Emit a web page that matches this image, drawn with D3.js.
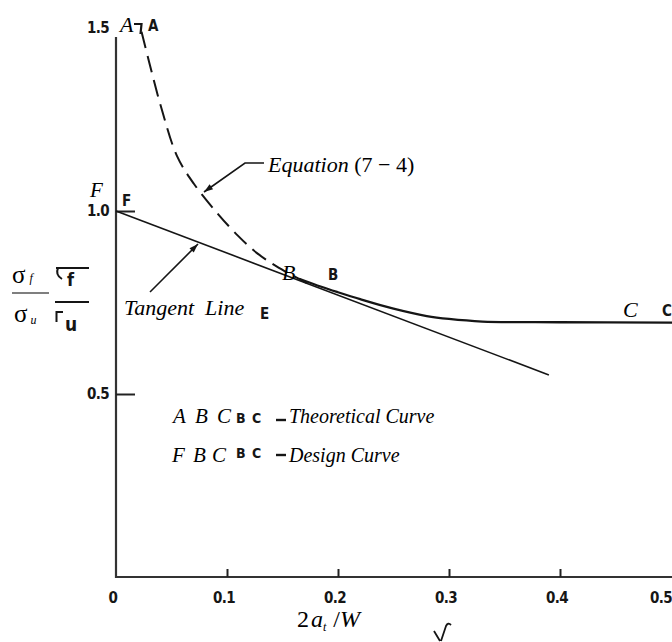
<!DOCTYPE html>
<html>
<head>
<meta charset="utf-8">
<script src="https://cdn.jsdelivr.net/npm/d3@7"></script>
<style>
  html, body { margin: 0; padding: 0; background: #fff; }
  svg { display: block; }
  .serif { font-family: "Liberation Serif", "DejaVu Serif", serif; }
  .scan { font-family: "DejaVu Sans Condensed", "DejaVu Sans", sans-serif; font-weight: bold; fill: #161616; }
</style>
</head>
<body>
<svg id="chart" width="672" height="642"></svg>
<script>
// Axis ticks
const xTickValues = [0, 0.1, 0.2, 0.3, 0.4, 0.5];
const xTickLabels = ["0", "0.1", "0.2", "0.3", "0.4", "0.5"];
const yTickValues = [0.5, 1.0, 1.5];
const yTickLabels = ["0.5", "1.0", "1.5"];

// Equation (7-4): theoretical curve A -> B (dashed)
const eqX = [0.023, 0.030, 0.041, 0.055, 0.070, 0.091, 0.110, 0.127, 0.145, 0.172];
const eqY = [1.490, 1.405, 1.280, 1.150, 1.075, 0.995, 0.932, 0.885, 0.848, 0.803];

// Curve B -> C (solid)
const curveX = [0.165, 0.185, 0.200, 0.220, 0.250, 0.280, 0.300, 0.330, 0.400, 0.500];
const curveY = [0.815, 0.793, 0.778, 0.759, 0.733, 0.713, 0.705, 0.698, 0.696, 0.695];

// Tangent line from F
const tangentX = [0, 0.39];
const tangentY = [1.0, 0.552];

// Point B where the tangent meets the curve
const pointB = [0.1414, 0.844];

const svg = d3.select("#chart");
const ink = "#151515";

const x = d3.scaleLinear().domain([0, 0.5]).range([116, 671]);
const y = d3.scaleLinear().domain([0, 1.5]).range([577, 28]);

// ---- axes ----
const xAxis = svg.append("g")
  .attr("transform", `translate(0,${y(0)})`)
  .call(d3.axisBottom(x).tickValues(xTickValues.slice(1, 5)).tickSize(-8).tickFormat(""));
xAxis.select(".domain").attr("d", `M${x(0)},0H672`).attr("stroke", "#333").attr("stroke-width", 2.2);
xAxis.selectAll(".tick line").attr("stroke", "#222").attr("stroke-width", 2);

svg.append("g").selectAll("text").data(xTickValues).join("text")
  .attr("class", "scan")
  .attr("x", d => Math.min(x(d) - 3, 661))
  .attr("y", 603)
  .attr("text-anchor", "middle")
  .attr("font-size", 15)
  .attr("letter-spacing", -0.6)
  .text((d, i) => xTickLabels[i]);

const yAxis = svg.append("g")
  .attr("transform", `translate(${x(0)},0)`)
  .call(d3.axisLeft(y).tickValues(yTickValues.slice(0, 2)).tickSize(-19).tickFormat(""));
yAxis.select(".domain").attr("d", `M0,37V${y(0) + 1}`).attr("stroke", "#333").attr("stroke-width", 2.2);
yAxis.selectAll(".tick line").attr("stroke", "#222").attr("stroke-width", 2);

svg.append("g").selectAll("text").data(yTickValues).join("text")
  .attr("class", "scan")
  .attr("x", x(0) - 18)
  .attr("y", d => y(d) + 5)
  .attr("text-anchor", "middle")
  .attr("font-size", 15)
  .attr("letter-spacing", -0.6)
  .text((d, i) => yTickLabels[i]);

// ---- curves ----
const line = d3.line().x(d => x(d[0])).y(d => y(d[1]));

svg.append("path")
  .datum(eqX.map((v, i) => [v, eqY[i]]))
  .attr("d", line.curve(d3.curveCatmullRom))
  .attr("fill", "none").attr("stroke", ink).attr("stroke-width", 2)
  .attr("stroke-dasharray", "17,8");

svg.append("path")
  .datum(curveX.map((v, i) => [v, curveY[i]]))
  .attr("d", line.curve(d3.curveCatmullRom))
  .attr("fill", "none").attr("stroke", ink).attr("stroke-width", 2.3);

svg.append("path")
  .datum(tangentX.map((v, i) => [v, tangentY[i]]))
  .attr("d", line.curve(d3.curveLinear))
  .attr("fill", "none").attr("stroke", ink).attr("stroke-width", 1.6);

// extend the plateau to the right edge
svg.append("line")
  .attr("x1", x(0.5)).attr("x2", 672)
  .attr("y1", y(curveY[curveY.length - 1])).attr("y2", y(curveY[curveY.length - 1]))
  .attr("stroke", ink).attr("stroke-width", 2.3);

// ---- leader arrows ----
function leader(points) {
  svg.append("path")
    .attr("d", d3.line()(points))
    .attr("fill", "none").attr("stroke", ink).attr("stroke-width", 1.6);
  const [p0, p1] = points.slice(-2);
  const ang = Math.atan2(p1[1] - p0[1], p1[0] - p0[0]);
  const L = 9, W = 3;
  const bx = p1[0] - L * Math.cos(ang), by = p1[1] - L * Math.sin(ang);
  svg.append("path")
    .attr("d", `M${p1[0]},${p1[1]}L${bx - W * Math.sin(ang)},${by + W * Math.cos(ang)}L${bx + W * Math.sin(ang)},${by - W * Math.cos(ang)}Z`)
    .attr("fill", ink);
}
leader([[264, 163], [245, 163], [204, 192]]);
leader([[150, 292], [198, 244]]);

// ---- serif annotations ----
const serif = (t, px, py, size, italic = true) =>
  svg.append("text").attr("class", "serif")
    .attr("x", px).attr("y", py)
    .attr("font-size", size)
    .attr("font-style", italic ? "italic" : "normal")
    .attr("fill", "#000")
    .text(t);

const scan = (t, px, py, size = 15) =>
  svg.append("text").attr("class", "scan")
    .attr("x", px).attr("y", py).attr("font-size", size).text(t);

// A at the top
serif("A", x(0) + 4, y(1.5) + 4, 22);
svg.append("path").attr("d", "M134,24H141.5L140.5,34")
  .attr("fill", "none").attr("stroke", ink).attr("stroke-width", 2.2);
scan("A", 148, 31);

// F at 1.0
serif("F", x(0) - 26, y(1.0) - 14, 21);
scan("F", x(0) + 6, y(1.0) - 5);

// B
serif("B", x(pointB[0]) + 9, y(pointB[1]) + 12, 22);
scan("B", 328, 280);

// C
serif("C", 623, 317, 22);
scan("C", 662, 316);

// Equation label
const eq = svg.append("text").attr("class", "serif").attr("x", 268).attr("y", 172).attr("font-size", 22);
eq.append("tspan").attr("font-style", "italic").text("Equation");
eq.append("tspan").text(" (7 \u2212 4)");

// Tangent line label
svg.append("text").attr("class", "serif").attr("x", 124).attr("y", 315)
  .attr("font-size", 22).attr("font-style", "italic")
  .attr("xml:space", "preserve").style("white-space", "pre")
  .text("Tangent  Line");
scan("E", 260, 319);

// ---- legend ----
const legendRows = [
  { letters: ["A", "B", "C"], xs: [173, 195, 217], label: "Theoretical Curve", base: 423, scanBase: 423, dashY: 420 },
  { letters: ["F", "B", "C"], xs: [172, 193, 212], label: "Design Curve", base: 462, scanBase: 458, dashY: 455 }
];
legendRows.forEach(r => {
  r.letters.forEach((l, i) => serif(l, r.xs[i], r.base, 21));
  scan("B", 236, r.scanBase, 14);
  scan("C", 252, r.scanBase, 14);
  svg.append("line").attr("x1", 276).attr("x2", 286).attr("y1", r.dashY).attr("y2", r.dashY)
    .attr("stroke", ink).attr("stroke-width", 2.4);
  serif(r.label, 289, r.base, 20);
});

// ---- y-axis title: sigma_f / sigma_u ----
const num = svg.append("text").attr("class", "serif").attr("x", 12).attr("y", 283).attr("font-size", 25);
num.append("tspan").text("\u03c3");
num.append("tspan").attr("font-size", 12).attr("font-style", "italic").attr("dx", 4).attr("dy", -1).text("f");
svg.append("line").attr("x1", 12).attr("x2", 49).attr("y1", 293).attr("y2", 293)
  .attr("stroke", "#000").attr("stroke-width", 1.2);
const den = svg.append("text").attr("class", "serif").attr("x", 14).attr("y", 322).attr("font-size", 25);
den.append("tspan").text("\u03c3");
den.append("tspan").attr("font-size", 12).attr("font-style", "italic").attr("dx", 3).attr("dy", 2).text("u");

// hand-lettered duplicate of the ratio
svg.append("path").attr("d", "M56,268H89M58,268Q55,275 62,279")
  .attr("fill", "none").attr("stroke", ink).attr("stroke-width", 2);
scan("f", 67, 286, 18);
svg.append("line").attr("x1", 55).attr("x2", 89).attr("y1", 302).attr("y2", 302)
  .attr("stroke", ink).attr("stroke-width", 2.2);
svg.append("path").attr("d", "M56,312H63M56.5,311V322")
  .attr("fill", "none").attr("stroke", ink).attr("stroke-width", 2);
scan("u", 65, 331, 19);

// ---- x-axis title ----
const xt = svg.append("text").attr("class", "serif").attr("x", 297).attr("y", 627).attr("font-size", 24);
xt.append("tspan").text("2");
xt.append("tspan").attr("font-style", "italic").attr("dx", 2).text("a");
xt.append("tspan").attr("font-style", "italic").attr("font-size", 12).attr("dy", 4).text("t");
xt.append("tspan").attr("dy", -4).attr("dx", 7).text("/");
xt.append("tspan").attr("font-style", "italic").text("W");

svg.append("path").attr("d", "M434,631L440,641M441,641L446,626Q448,622 451,625")
  .attr("fill", "none").attr("stroke", ink).attr("stroke-width", 1.8);
</script>
</body>
</html>
